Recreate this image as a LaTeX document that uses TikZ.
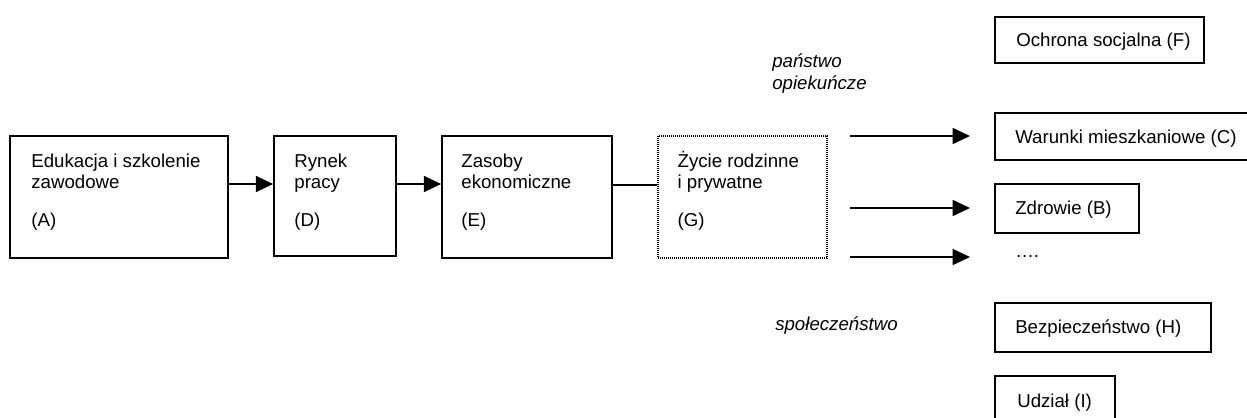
\documentclass[tikz,border=0pt]{standalone}
\usepackage{fontspec}
\setmainfont{Liberation Sans}
\usetikzlibrary{arrows.meta,fit,calc}
\begin{document}
\begin{tikzpicture}[x=0.75pt,y=-0.75pt,
  box/.style={draw, line width=1.3pt, inner sep=0pt},
  dotbox/.style={draw, line width=1pt, dash pattern=on 0.75pt off 0.75pt, inner sep=0pt},
  txt/.style={font=\fontsize{14pt}{16.1pt}\selectfont, inner sep=0pt, align=left, anchor=north west},
  lbl/.style={font=\fontsize{14pt}{16.1pt}\selectfont, inner sep=0pt, anchor=base west},
  itl/.style={font=\fontsize{14pt}{16.1pt}\selectfont\itshape, inner sep=0pt, align=left, anchor=north west},
  arr/.style={line width=1.3pt, -{Triangle[length=13pt,width=12pt]}},
  ln/.style={line width=1.3pt}]
\useasboundingbox (0,0) rectangle (1247,418);

% left chain
\node[box, fit={(10,136) (228,258)}] (A) {};
\node[box, fit={(274,136) (396,256)}] (D) {};
\node[box, fit={(442,136) (612,258)}] (E) {};
\node[dotbox, fit={(658,136) (827,258)}] (G) {};

\node[txt] (At) at ($(A.north west)+(22,14.5)$) {\rule{0pt}{13pt}Edukacja i szkolenie\\zawodowe\\[12pt](A)};
\node[txt] (Dt) at ($(D.north west)+(21,14.5)$) {\rule{0pt}{13pt}Rynek\\pracy\\[12pt](D)};
\node[txt] (Et) at ($(E.north west)+(20,14.5)$) {\rule{0pt}{13pt}Zasoby\\ekonomiczne\\[12pt](E)};
\node[txt] (Gt) at ($(G.north west)+(20,14.5)$) {\rule{0pt}{13pt}Życie rodzinne\\i prywatne\\[12pt](G)};

\draw[arr] ($(A.east)+(0,-13)$) -- ($(D.west)+(0,-12)$);
\draw[arr] ($(D.east)+(0,-12)$) -- ($(E.west)+(0,-13)$);
\draw[ln] ($(E.east)+(0,-12)$) -- ($(G.west)+(0,-12)$);

% right column
\node[box, fit={(995,17) (1204,63)}] (F) {};
\node[box, fit={(995,113) (1262,160)}] (C) {};
\node[box, fit={(995,184) (1139,233)}] (B) {};
\node[box, fit={(995,303) (1211,352)}] (H) {};
\node[box, fit={(995,376) (1115,425)}] (I) {};

\node[lbl] (Ft) at (1016,46) {Ochrona socjalna (F)};
\node[lbl] (Ct) at (1015,143) {Warunki mieszkaniowe (C)};
\node[lbl] (Bt) at (1015,214) {Zdrowie (B)};
\node[lbl] (Dots) at (1015,257) {….};
\node[lbl] (Ht) at (1015,333) {Bezpieczeństwo (H)};
\node[lbl] (It) at (1017,407) {Udział (I)};

% arrows out of G
\coordinate (s1) at (850,136);
\coordinate (e1) at (970,136);
\coordinate (s2) at (850,208);
\coordinate (e2) at (970,208);
\coordinate (s3) at (850,257);
\coordinate (e3) at (970,257);
\draw[arr] (s1) -- (e1);
\draw[arr] (s2) -- (e2);
\draw[arr] (s3) -- (e3);

% italic labels
\node[itl] (pan) at (772,50) {\rule{0pt}{13pt}państwo\\opiekuńcze};
\node[lbl, font=\fontsize{14pt}{16.1pt}\selectfont\itshape] (spo) at (775,330) {społeczeństwo};
\end{tikzpicture}
\end{document}
